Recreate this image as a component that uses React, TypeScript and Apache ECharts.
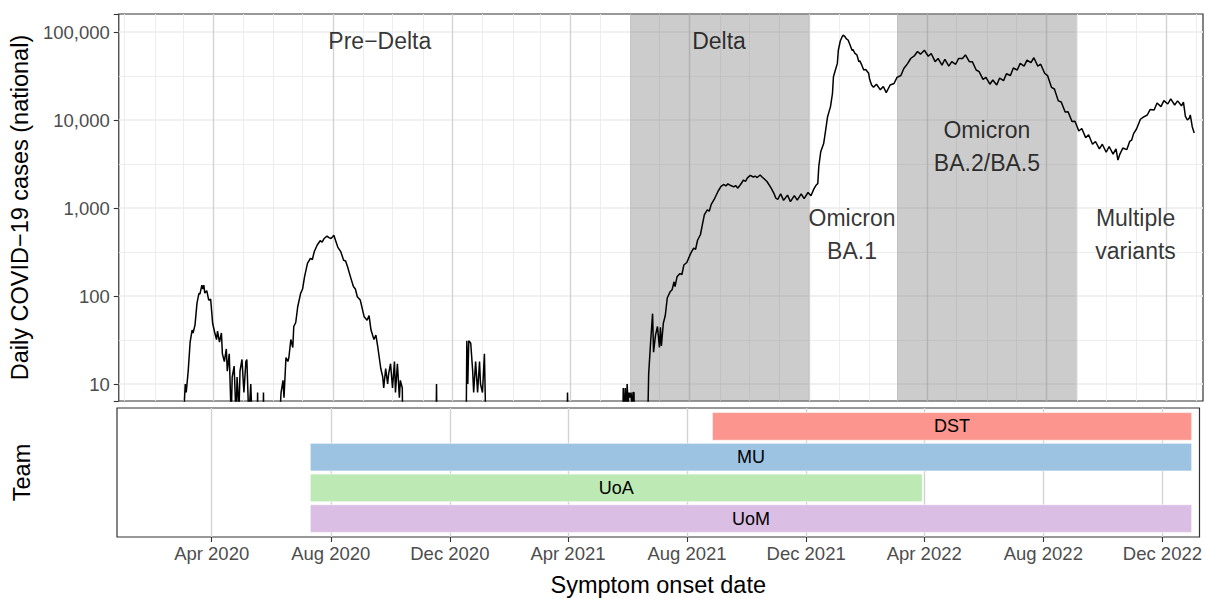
import React, { useEffect, useRef } from 'react';
import * as echarts from 'echarts';

const FONT = '"Liberation Sans", Arial, Helvetica, sans-serif';

// x-axis domain and labelled ticks
const AXIS_START = '2019-12-26';
const AXIS_END = '2023-01-08';
const MAJOR_TICKS = [
  '2020-04-01', '2020-08-01', '2020-12-01', '2021-04-01', '2021-08-01',
  '2021-12-01', '2022-04-01', '2022-08-01', '2022-12-01',
];
const MONTH_NAMES = ['Jan', 'Feb', 'Mar', 'Apr', 'May', 'Jun', 'Jul', 'Aug', 'Sep', 'Oct', 'Nov', 'Dec'];

// y-axis (log) range and gridlines
const Y_MIN = 6.41;
const Y_MAX = 160170;
const Y_TICKS = [10, 100, 1000, 10000, 100000];
const Y_MINOR = [31.6228, 316.228, 3162.28, 31622.8];

// shaded variant periods
const PERIOD_FROM = ['2021-06-01', '2022-03-01'];
const PERIOD_TO = ['2021-12-01', '2022-09-01'];

// annotations
const ANNOT_TEXT = ['Pre\u2212Delta', 'Delta', 'Omicron\nBA.1', 'Omicron\nBA.2/BA.5', 'Multiple\nvariants'];
const ANNOT_DATE = ['2020-09-18', '2021-08-31', '2022-01-14', '2022-06-01', '2022-10-31'];
const ANNOT_CASES = [79000, 79000, 500, 5000, 500];

// teams
const TEAM_NAMES = ['DST', 'MU', 'UoA', 'UoM'];
const TEAM_FROM = ['2021-08-27', '2020-07-11', '2020-07-11', '2020-07-11'];
const TEAM_TO = ['2022-12-31', '2022-12-31', '2022-03-30', '2022-12-31'];
const TEAM_ROW = [4, 3, 2, 1];
const TEAM_COLORS = ['#FB958D', '#9DC3E3', '#BDEAB4', '#DBBEE3'];

// daily cases (values <= 1 sit below the visible range)
const WAVE_2020_A: [string, number][] = [
  ['2020-02-26', 1], ['2020-03-01', 1], ['2020-03-02', 6], ['2020-03-03', 10], ['2020-03-04', 8],
  ['2020-03-06', 14], ['2020-03-08', 30], ['2020-03-10', 41], ['2020-03-11', 38], ['2020-03-13', 47],
  ['2020-03-15', 83], ['2020-03-17', 107], ['2020-03-18', 105], ['2020-03-20', 133], ['2020-03-21', 120],
  ['2020-03-22', 133], ['2020-03-23', 108], ['2020-03-25', 115], ['2020-03-27', 90], ['2020-03-29', 92],
  ['2020-03-31', 49], ['2020-04-02', 39], ['2020-04-04', 32], ['2020-04-05', 40], ['2020-04-07', 30],
  ['2020-04-09', 38], ['2020-04-10', 22], ['2020-04-12', 18], ['2020-04-14', 25], ['2020-04-15', 14],
  ['2020-04-17', 22], ['2020-04-19', 4], ['2020-04-20', 12], ['2020-04-22', 16], ['2020-04-24', 4],
  ['2020-04-25', 12], ['2020-04-27', 5], ['2020-04-28', 14], ['2020-04-30', 19], ['2020-05-02', 8],
  ['2020-05-04', 18], ['2020-05-05', 19], ['2020-05-07', 4], ['2020-05-09', 10], ['2020-05-10', 5],
  ['2020-05-12', 3], ['2020-05-15', 1], ['2020-05-16', 8], ['2020-05-17', 1], ['2020-05-21', 1],
  ['2020-05-22', 8], ['2020-05-23', 1],
];
const WAVE_2020_B: [string, number][] = [
  ['2020-06-06', 1], ['2020-06-08', 5], ['2020-06-09', 8], ['2020-06-11', 11], ['2020-06-12', 7],
  ['2020-06-14', 20], ['2020-06-16', 18], ['2020-06-17', 20], ['2020-06-19', 32], ['2020-06-21', 26],
  ['2020-06-22', 45], ['2020-06-24', 50], ['2020-06-26', 75], ['2020-06-29', 107], ['2020-07-01', 120],
  ['2020-07-03', 165], ['2020-07-06', 235], ['2020-07-09', 268], ['2020-07-11', 260], ['2020-07-13', 320],
  ['2020-07-16', 380], ['2020-07-19', 425], ['2020-07-21', 410], ['2020-07-23', 450], ['2020-07-26', 480],
  ['2020-07-28', 460], ['2020-07-30', 450], ['2020-08-01', 475], ['2020-08-02', 490], ['2020-08-04', 420],
  ['2020-08-06', 360], ['2020-08-09', 320], ['2020-08-12', 255], ['2020-08-14', 250], ['2020-08-16', 215],
  ['2020-08-19', 165], ['2020-08-22', 128], ['2020-08-24', 120], ['2020-08-26', 98], ['2020-08-29', 90],
  ['2020-09-02', 58], ['2020-09-05', 53], ['2020-09-07', 60], ['2020-09-09', 41], ['2020-09-12', 32],
  ['2020-09-14', 36], ['2020-09-16', 26], ['2020-09-19', 15], ['2020-09-21', 12], ['2020-09-22', 9],
  ['2020-09-24', 15], ['2020-09-26', 10], ['2020-09-27', 13], ['2020-09-29', 17], ['2020-10-01', 9],
  ['2020-10-03', 18], ['2020-10-04', 8], ['2020-10-06', 17], ['2020-10-08', 7], ['2020-10-09', 11],
  ['2020-10-11', 9], ['2020-10-12', 1],
];
const SPORADIC_2020_21: [string, number][] = [
  ['2020-11-14', 1], ['2020-11-15', 10], ['2020-11-16', 1],
  ['2020-12-15', 1], ['2020-12-16', 31], ['2020-12-17', 10], ['2020-12-18', 31], ['2020-12-20', 29],
  ['2020-12-22', 14], ['2020-12-23', 8], ['2020-12-25', 18], ['2020-12-27', 8], ['2020-12-29', 18],
  ['2020-12-30', 10], ['2021-01-01', 8], ['2021-01-03', 22], ['2021-01-04', 6], ['2021-01-05', 1],
  ['2021-03-28', 1], ['2021-03-29', 8], ['2021-03-30', 1],
  ['2021-05-24', 1], ['2021-05-25', 9], ['2021-05-26', 4], ['2021-05-27', 9], ['2021-05-28', 5],
  ['2021-05-29', 10], ['2021-05-30', 6], ['2021-05-31', 8], ['2021-06-01', 7], ['2021-06-02', 8],
  ['2021-06-03', 5], ['2021-06-04', 8], ['2021-06-05', 8], ['2021-06-06', 1],
];
const DELTA_2021: [string, number][] = [
  ['2021-06-18', 1], ['2021-06-20', 13], ['2021-06-22', 30], ['2021-06-24', 63], ['2021-06-25', 23],
  ['2021-06-27', 36], ['2021-06-29', 45], ['2021-07-01', 26], ['2021-07-02', 44], ['2021-07-03', 27],
  ['2021-07-05', 49], ['2021-07-07', 60], ['2021-07-09', 95], ['2021-07-12', 112], ['2021-07-14', 118],
  ['2021-07-16', 145], ['2021-07-17', 128], ['2021-07-19', 165], ['2021-07-22', 180], ['2021-07-24', 175],
  ['2021-07-26', 225], ['2021-07-29', 240], ['2021-08-02', 305], ['2021-08-05', 350], ['2021-08-07', 340],
  ['2021-08-09', 430], ['2021-08-12', 500], ['2021-08-14', 650], ['2021-08-16', 840], ['2021-08-19', 950],
  ['2021-08-21', 920], ['2021-08-23', 1100], ['2021-08-26', 1250], ['2021-08-30', 1550], ['2021-09-02', 1760],
  ['2021-09-05', 1850], ['2021-09-07', 1780], ['2021-09-09', 1880], ['2021-09-12', 1800], ['2021-09-15', 1740],
  ['2021-09-17', 1800], ['2021-09-19', 1680], ['2021-09-22', 1850], ['2021-09-25', 2080], ['2021-09-27', 2000],
  ['2021-09-29', 2200], ['2021-10-02', 2350], ['2021-10-05', 2250], ['2021-10-07', 2300], ['2021-10-09', 2220],
  ['2021-10-12', 2370], ['2021-10-14', 2250], ['2021-10-16', 2150], ['2021-10-19', 2000], ['2021-10-23', 1700],
  ['2021-10-26', 1480], ['2021-10-28', 1300], ['2021-10-30', 1250], ['2021-11-02', 1450], ['2021-11-05', 1220],
  ['2021-11-09', 1400], ['2021-11-12', 1180], ['2021-11-16', 1380], ['2021-11-19', 1230], ['2021-11-23', 1450],
  ['2021-11-26', 1280], ['2021-11-30', 1500], ['2021-12-03', 1380], ['2021-12-06', 1650], ['2021-12-08', 1800],
  ['2021-12-10', 1900], ['2021-12-11', 2950], ['2021-12-13', 4360],
];
const OMICRON_2022: [string, number][] = [
  ['2021-12-16', 5400], ['2021-12-18', 7640], ['2021-12-20', 10900], ['2021-12-21', 11900], ['2021-12-23', 14200],
  ['2021-12-25', 20000], ['2021-12-26', 31000], ['2021-12-28', 37000], ['2021-12-30', 44000], ['2021-12-31', 62000],
  ['2022-01-02', 79000], ['2022-01-04', 89000], ['2022-01-05', 92000], ['2022-01-07', 88000], ['2022-01-08', 84000],
  ['2022-01-10', 81000], ['2022-01-12', 71000], ['2022-01-14', 62000], ['2022-01-15', 63000], ['2022-01-17', 57000],
  ['2022-01-19', 55000], ['2022-01-21', 46000], ['2022-01-22', 47000], ['2022-01-24', 42000], ['2022-01-26', 37000],
  ['2022-01-28', 37500], ['2022-01-31', 34000], ['2022-02-01', 29000], ['2022-02-03', 25000], ['2022-02-05', 23500],
  ['2022-02-08', 25500], ['2022-02-12', 22000], ['2022-02-15', 24000], ['2022-02-18', 20500], ['2022-02-22', 25000],
  ['2022-02-26', 26000], ['2022-03-01', 30500], ['2022-03-05', 32000], ['2022-03-08', 38500], ['2022-03-12', 44000],
  ['2022-03-15', 50000], ['2022-03-19', 54000], ['2022-03-22', 60000], ['2022-03-25', 56000], ['2022-03-29', 62000],
  ['2022-04-02', 53000], ['2022-04-05', 57000], ['2022-04-09', 46000], ['2022-04-12', 50000], ['2022-04-16', 42000],
  ['2022-04-19', 49000], ['2022-04-23', 41000], ['2022-04-26', 46000], ['2022-04-30', 43000], ['2022-05-03', 50000],
  ['2022-05-07', 50000], ['2022-05-10', 55000], ['2022-05-14', 46000], ['2022-05-17', 46000], ['2022-05-21', 37000],
  ['2022-05-24', 35500], ['2022-05-28', 29000], ['2022-05-31', 30500], ['2022-06-04', 25500], ['2022-06-07', 28500],
  ['2022-06-11', 25000], ['2022-06-14', 30000], ['2022-06-18', 28000], ['2022-06-21', 33500], ['2022-06-25', 32000],
  ['2022-06-28', 39000], ['2022-07-02', 37000], ['2022-07-05', 44000], ['2022-07-09', 41000], ['2022-07-12', 48000],
  ['2022-07-16', 45000], ['2022-07-19', 51000], ['2022-07-23', 41000], ['2022-07-26', 43000], ['2022-07-30', 34000],
  ['2022-08-02', 32000], ['2022-08-06', 23500], ['2022-08-09', 22500], ['2022-08-13', 16500], ['2022-08-16', 16000],
  ['2022-08-20', 12300], ['2022-08-23', 12400], ['2022-08-27', 9600], ['2022-08-30', 9700], ['2022-09-03', 7500],
  ['2022-09-06', 8000], ['2022-09-10', 6300], ['2022-09-13', 6800], ['2022-09-17', 5300], ['2022-09-20', 5700],
  ['2022-09-24', 4700], ['2022-09-27', 5300], ['2022-10-01', 4300], ['2022-10-04', 5000], ['2022-10-08', 4100],
  ['2022-10-11', 4700], ['2022-10-13', 3500], ['2022-10-15', 4100], ['2022-10-18', 4800], ['2022-10-22', 4600],
  ['2022-10-25', 5700], ['2022-10-27', 5900], ['2022-10-29', 7000], ['2022-11-01', 7900], ['2022-11-05', 10200],
  ['2022-11-08', 10800], ['2022-11-12', 11400], ['2022-11-15', 13200], ['2022-11-19', 13000], ['2022-11-22', 15600],
  ['2022-11-26', 14200], ['2022-11-29', 16600], ['2022-12-03', 15200], ['2022-12-06', 17400], ['2022-12-10', 14800],
  ['2022-12-13', 16500], ['2022-12-17', 14500], ['2022-12-19', 16000], ['2022-12-21', 11000], ['2022-12-23', 10000],
  ['2022-12-25', 10500], ['2022-12-26', 11400], ['2022-12-28', 8400], ['2022-12-30', 7100],
];

function buildDays(start: string, end: string): string[] {
  const out: string[] = [];
  const d = new Date(start + 'T00:00:00Z');
  const e = new Date(end + 'T00:00:00Z');
  while (d.getTime() <= e.getTime()) {
    out.push(d.toISOString().slice(0, 10));
    d.setUTCDate(d.getUTCDate() + 1);
  }
  return out;
}

export default function App() {
  const ref = useRef<HTMLDivElement>(null);

  useEffect(() => {
    if (!ref.current) return;
    const chart = echarts.init(ref.current, undefined, { renderer: 'svg' });

    const DAYS = buildDays(AXIS_START, AXIS_END);
    const MONTH_STARTS = DAYS.filter((d) => d.endsWith('-01'));
    const isMajor = (_i: number, v: string) => MAJOR_TICKS.indexOf(v) >= 0;
    const fmtMonth = (v: string) => `${MONTH_NAMES[parseInt(v.slice(5, 7), 10) - 1]} ${v.slice(0, 4)}`;
    const cases = [...WAVE_2020_A, ...WAVE_2020_B, ...SPORADIC_2020_21, ...DELTA_2021, ...OMICRON_2022];

    const gridLines: any[] = [
      ...Y_TICKS.map((v) => ({ yAxis: v, lineStyle: { color: '#EBEBEB', width: 1.7, type: 'solid' } })),
      ...Y_MINOR.map((v) => ({ yAxis: v, lineStyle: { color: '#EBEBEB', width: 0.9, type: 'solid' } })),
      ...MONTH_STARTS.filter((d) => MAJOR_TICKS.indexOf(d) < 0).map((d) => ({
        xAxis: d, lineStyle: { color: '#EBEBEB', width: 0.9, type: 'solid' },
      })),
      ...MAJOR_TICKS.map((d) => ({ xAxis: d, lineStyle: { color: '#D3D3D3', width: 1.4, type: 'solid' } })),
    ];

    const titleStyle = { fontSize: 23.5, color: '#000000', fontFamily: FONT };
    const tickLabel = { color: '#4D4D4D', fontSize: 18.5, fontFamily: FONT };

    const option: any = {
      animation: false,
      backgroundColor: '#ffffff',
      textStyle: { fontFamily: FONT },
      grid: [
        { left: 117, top: 14, width: 1086, height: 387, show: true, borderColor: '#333333', borderWidth: 1.2 },
        { left: 117, top: 408, width: 1086, height: 129, show: true, borderColor: '#333333', borderWidth: 1.2 },
      ],
      xAxis: [
        {
          type: 'category', gridIndex: 0, data: DAYS, boundaryGap: false,
          axisLine: { show: false }, axisTick: { show: false }, axisLabel: { show: false }, splitLine: { show: false },
        },
        {
          type: 'category', gridIndex: 1, data: DAYS, boundaryGap: false,
          axisLine: { show: false },
          axisTick: { show: true, interval: isMajor, length: 5, lineStyle: { color: '#333333', width: 1.1 } },
          axisLabel: { show: true, interval: isMajor, formatter: fmtMonth, margin: 7, hideOverlap: false, ...tickLabel },
          splitLine: { show: true, interval: isMajor, lineStyle: { color: '#D3D3D3', width: 1.4 } },
          name: 'Symptom onset date', nameLocation: 'middle', nameGap: 36, nameTextStyle: titleStyle,
        },
      ],
      yAxis: [
        {
          type: 'log', logBase: 10, gridIndex: 0, min: Y_MIN, max: Y_MAX,
          axisLine: { show: false },
          axisTick: { show: true, length: 5, lineStyle: { color: '#333333', width: 1.1 } },
          axisLabel: {
            margin: 9, ...tickLabel,
            formatter: (v: number) => {
              const k = Math.log10(v);
              if (Math.abs(k - Math.round(k)) > 1e-6) return '';
              return Math.round(v).toLocaleString('en-US');
            },
          },
          splitLine: { show: false }, minorTick: { show: false }, minorSplitLine: { show: false },
          name: 'Daily COVID\u221219 cases (national)', nameLocation: 'middle', nameGap: 83, nameTextStyle: titleStyle,
        },
        {
          type: 'value', gridIndex: 1, min: 0.4, max: 4.6,
          axisLine: { show: false }, axisTick: { show: false }, axisLabel: { show: false }, splitLine: { show: false },
          name: 'Team', nameLocation: 'middle', nameGap: 83, nameTextStyle: titleStyle,
        },
      ],
      series: [
        {
          type: 'line', xAxisIndex: 0, yAxisIndex: 0, data: cases, z: 3,
          symbol: 'none', showSymbol: false, clip: true, silent: true,
          lineStyle: { color: '#000000', width: 1.5 },
          markLine: {
            silent: true, z: 1, symbol: ['none', 'none'], label: { show: false },
            lineStyle: { type: 'solid' }, animation: false, data: gridLines,
          },
          markArea: {
            silent: true, z: 2, animation: false,
            itemStyle: { color: 'rgba(127,127,127,0.4)' },
            data: PERIOD_FROM.map((f, i) => [{ xAxis: f }, { xAxis: PERIOD_TO[i] }]),
          },
        },
        {
          type: 'scatter', xAxisIndex: 0, yAxisIndex: 0, z: 4, silent: true,
          symbol: 'circle', symbolSize: 1, itemStyle: { color: 'rgba(0,0,0,0)' },
          data: ANNOT_TEXT.map((t, i) => ({ name: t, value: [ANNOT_DATE[i], ANNOT_CASES[i]] })),
          label: {
            show: true, position: 'inside', formatter: '{b}', fontSize: 23, lineHeight: 33,
            color: '#000000', fontFamily: FONT,
          },
        },
        {
          type: 'custom', xAxisIndex: 1, yAxisIndex: 1, z: 3, silent: true,
          encode: { x: [0, 1], y: 2 },
          data: TEAM_NAMES.map((_n, i) => [DAYS.indexOf(TEAM_FROM[i]), DAYS.indexOf(TEAM_TO[i]), TEAM_ROW[i]]),
          renderItem: (params: any, api: any) => {
            const i = params.dataIndex;
            const s = api.coord([api.value(0), api.value(2)]);
            const e = api.coord([api.value(1), api.value(2)]);
            const h = api.size([0, 0.9])[1];
            return {
              type: 'rect',
              shape: { x: s[0], y: s[1] - h / 2, width: e[0] - s[0], height: h },
              style: { fill: TEAM_COLORS[i], stroke: '#ffffff', lineWidth: 0.6 },
              textContent: { style: { text: TEAM_NAMES[i], fontSize: 18, fill: '#000000', fontFamily: FONT } },
              textConfig: { position: 'inside' },
            };
          },
        },
      ],
    };

    chart.setOption(option);
    return () => chart.dispose();
  }, []);

  return (
    <div
      ref={ref}
      style={{ position: 'absolute', left: 0, top: 0, width: 1205, height: 599, background: '#ffffff' }}
    />
  );
}
